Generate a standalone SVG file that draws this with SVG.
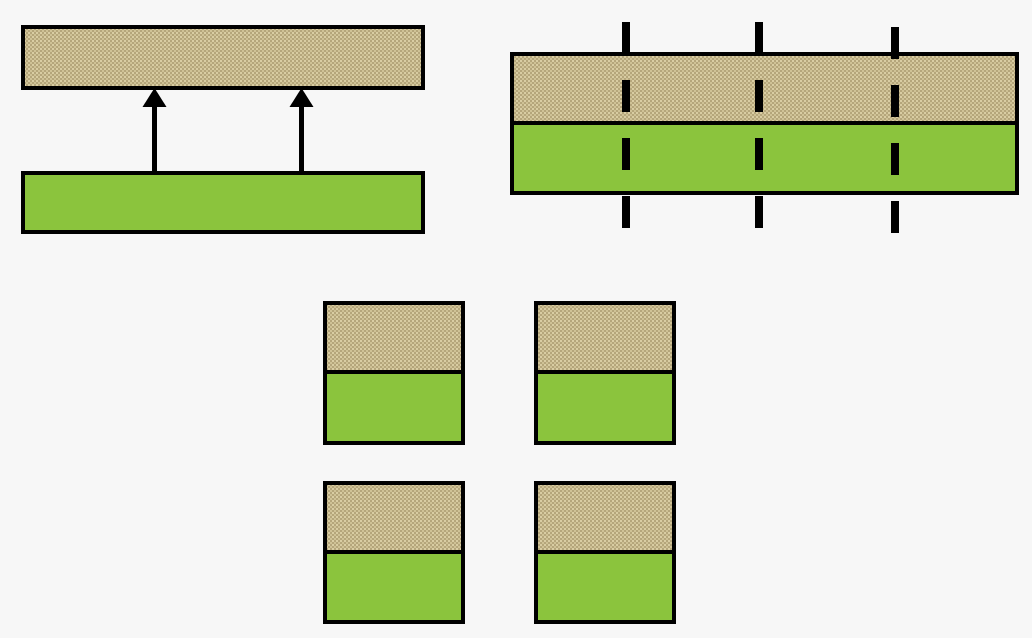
<svg xmlns="http://www.w3.org/2000/svg" width="1032" height="638" viewBox="0 0 1032 638">
<style>
.tan{fill:url(#dots);stroke:#000;stroke-width:4}
.grn{fill:#8bc43d;stroke:#000;stroke-width:4}
.cut{stroke:#000;stroke-width:8;stroke-dasharray:32 26;fill:none}
</style>
<defs>
<pattern id="dots" width="4" height="4" patternUnits="userSpaceOnUse">
<rect width="4" height="4" fill="#b5a67b"/>
<rect x="0" y="0" width="2" height="2" fill="#d9cda3"/>
<rect x="2" y="2" width="2" height="2" fill="#cfc296"/>
</pattern>
</defs>
<rect width="1032" height="638" fill="#f7f7f7"/>
<g id="layer-top-left"><rect class="tan" x="23" y="27" width="400" height="61"/></g>
<g id="layer-bottom-left"><rect class="grn" x="23" y="173" width="400" height="59"/></g>
<g id="stack-right">
<rect class="tan" x="512" y="54" width="505" height="69"/>
<rect class="grn" x="512" y="123" width="505" height="70"/>
</g>
<g id="piece-1"><rect class="tan" x="325" y="303" width="138" height="69"/><rect class="grn" x="325" y="372" width="138" height="71"/></g>
<g id="piece-2"><rect class="tan" x="536" y="303" width="138" height="69"/><rect class="grn" x="536" y="372" width="138" height="71"/></g>
<g id="piece-3"><rect class="tan" x="325" y="483" width="138" height="69"/><rect class="grn" x="325" y="552" width="138" height="70"/></g>
<g id="piece-4"><rect class="tan" x="536" y="483" width="138" height="69"/><rect class="grn" x="536" y="552" width="138" height="70"/></g>
<g id="connectors">
<path d="M154.5,171 L154.5,104" stroke="#000" stroke-width="5"/>
<path d="M142.5,107 L154.5,88 L166.5,107 Z" fill="#000"/>
<path d="M301.5,171 L301.5,104" stroke="#000" stroke-width="5"/>
<path d="M289.5,107 L301.5,88 L313.5,107 Z" fill="#000"/>
<path class="cut" d="M626,22 L626,230"/>
<path class="cut" d="M759,22 L759,230"/>
<path class="cut" d="M895,27 L895,235"/>
</g>
</svg>
